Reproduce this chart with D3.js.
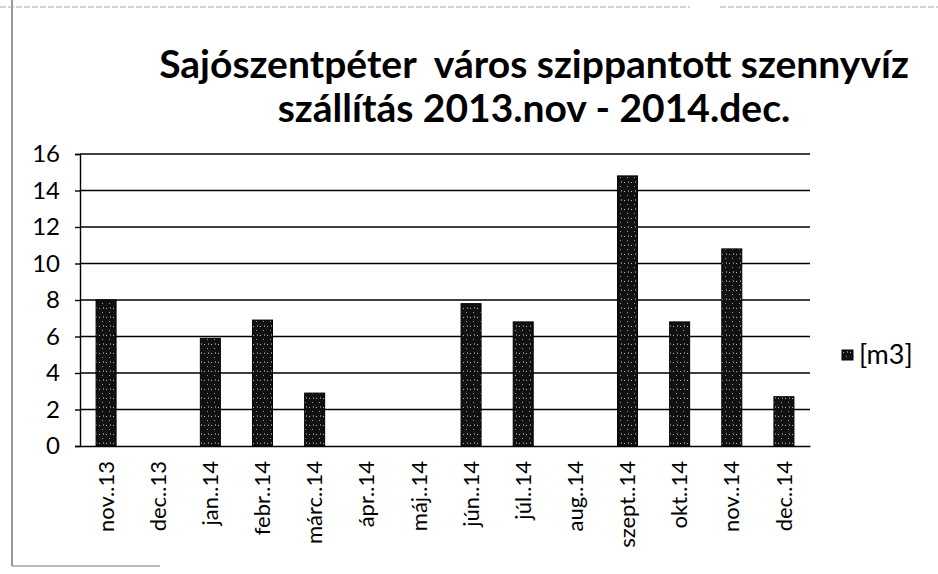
<!DOCTYPE html>
<html>
<head>
<meta charset="utf-8">
<script src="https://cdn.jsdelivr.net/npm/d3@7"></script>
<style>
  body { margin: 0; background: #fff; }
  svg { display: block; }
</style>
</head>
<body>
<script>
// months on the x axis and the monthly volumes in m3
const months = ["nov..13", "dec..13", "jan..14", "febr..14", "márc..14", "ápr..14", "máj..14",
                "jún..14", "júl..14", "aug..14", "szept..14", "okt..14", "nov..14", "dec..14"]
const volumes = [8, 0, 5.9, 6.9, 2.9, 0, 0, 7.8, 6.8, 0, 14.8, 6.8, 10.8, 2.7]
const yTicks = [0, 2, 4, 6, 8, 10, 12, 14, 16]
const titleLines = ["Sajószentpéter  város szippantott szennyvíz", "szállítás 2013.nov - 2014.dec."]
const legendLabel = "[m3]"

const width = 938, height = 574
const margin = {top: 154, left: 80, right: 128, bottom: 128}
const font = "Lato, 'Open Sans', sans-serif"

const svg = d3.select("body").append("svg")
  .attr("width", width)
  .attr("height", height)

// scanned-look fill for bars
const pat = svg.append("defs").append("pattern")
  .attr("id", "grain").attr("patternUnits", "userSpaceOnUse")
  .attr("width", 7).attr("height", 9)
pat.append("rect").attr("width", 7).attr("height", 9).attr("fill", "#111")
pat.append("rect").attr("x", 1).attr("y", 2).attr("width", 1).attr("height", 1).attr("fill", "#bbb")
pat.append("rect").attr("x", 4).attr("y", 6).attr("width", 1).attr("height", 1).attr("fill", "#999")
pat.append("rect").attr("x", 5).attr("y", 1).attr("width", 1).attr("height", 2).attr("fill", "#777")

// chart frame remains
svg.append("line").attr("x1", 12).attr("x2", 12).attr("y1", 0).attr("y2", 566)
  .attr("stroke", "#555").attr("stroke-width", 1.2)
svg.append("line").attr("x1", 12).attr("x2", 160).attr("y1", 566).attr("y2", 566)
  .attr("stroke", "#777").attr("stroke-width", 1)
svg.append("line").attr("x1", 0).attr("x2", 690).attr("y1", 7).attr("y2", 7)
  .attr("stroke", "#aaa").attr("stroke-width", 1).attr("stroke-dasharray", "6,2")
svg.append("line").attr("x1", 720).attr("x2", 938).attr("y1", 7).attr("y2", 7)
  .attr("stroke", "#aaa").attr("stroke-width", 1).attr("stroke-dasharray", "6,2")

const x = d3.scaleBand()
  .domain(months)
  .range([margin.left, width - margin.right])

const y = d3.scaleLinear()
  .domain([0, 16])
  .range([height - margin.bottom, margin.top])

// gridlines
svg.append("g")
  .selectAll("line")
  .data(yTicks.filter(d => d > 0))
  .join("line")
  .attr("x1", margin.left).attr("x2", width - margin.right)
  .attr("y1", d => y(d)).attr("y2", d => y(d))
  .attr("stroke", "#000").attr("stroke-width", 1.6)

// y axis
const yAxis = svg.append("g")
  .attr("transform", `translate(${margin.left},0)`)
  .call(d3.axisLeft(y).tickValues(yTicks).tickSize(5).tickPadding(15))
yAxis.select(".domain").attr("stroke", "#000").attr("stroke-width", 1.4)
yAxis.selectAll(".tick line").attr("stroke", "#000").attr("stroke-width", 1.4)
yAxis.selectAll("text")
  .attr("font-family", font).attr("font-size", 24).attr("fill", "#000")

// x axis
const xAxis = svg.append("g")
  .attr("transform", `translate(0,${height - margin.bottom})`)
  .call(d3.axisBottom(x).tickSize(0).tickPadding(0))
xAxis.select(".domain").attr("stroke", "#000").attr("stroke-width", 1.6)
xAxis.selectAll("text")
  .attr("font-family", font).attr("font-size", 22).attr("fill", "#000")
  .attr("transform", "rotate(-90)")
  .attr("text-anchor", "end")
  .attr("x", -15).attr("y", 0).attr("dy", "0.35em")

// bars
svg.append("g")
  .selectAll("rect")
  .data(months.map((m, i) => ({m, v: volumes[i]})).filter(d => d.v > 0))
  .join("rect")
  .attr("x", d => x(d.m) + x.bandwidth() / 2 - 10)
  .attr("width", 20)
  .attr("y", d => y(d.v))
  .attr("height", d => y(0) - y(d.v))
  .attr("fill", "url(#grain)")
  .attr("stroke", "#000").attr("stroke-width", 1)

// title
svg.append("g")
  .selectAll("text")
  .data(titleLines)
  .join("text")
  .attr("x", 534)
  .attr("y", (d, i) => 78 + i * 44)
  .attr("text-anchor", "middle")
  .style("white-space", "pre")
  .attr("font-family", font).attr("font-weight", "bold")
  .attr("font-size", 39).attr("fill", "#000")
  .text(d => d)

// legend
const lg = svg.append("g").attr("transform", "translate(842,350)")
lg.append("rect").attr("width", 11).attr("height", 10)
  .attr("fill", "url(#grain)").attr("stroke", "#000")
lg.append("text").attr("x", 17).attr("y", 5).attr("dy", "0.35em")
  .attr("font-family", font).attr("font-size", 27).attr("fill", "#000")
  .text(legendLabel)
</script>
</body>
</html>
